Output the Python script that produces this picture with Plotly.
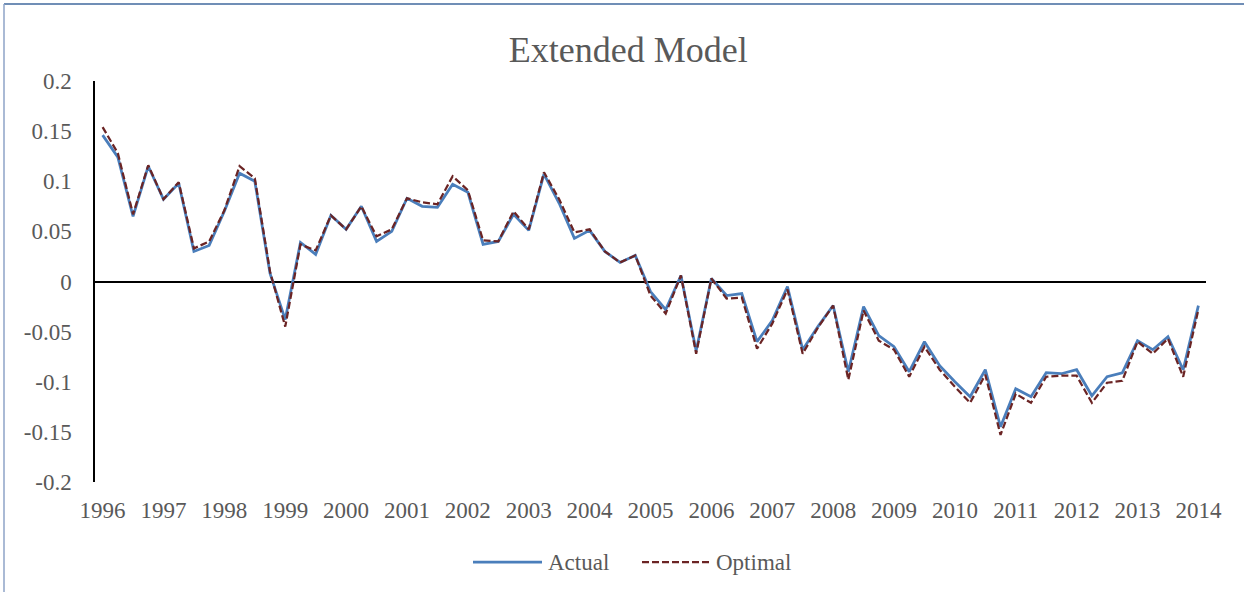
import plotly.graph_objects as go

years = [str(y) for y in range(1996, 2015)]
quarter_index = list(range(73))

actual = [0.146, 0.124, 0.065, 0.115, 0.082, 0.098, 0.030, 0.036, 0.070, 0.108,
          0.100, 0.008, -0.038, 0.039, 0.027, 0.066, 0.052, 0.075, 0.040, 0.050,
          0.083, 0.075, 0.074, 0.097, 0.089, 0.037, 0.040, 0.067, 0.051, 0.107,
          0.078, 0.043, 0.051, 0.030, 0.019, 0.026, -0.010, -0.028, 0.006, -0.069,
          0.003, -0.014, -0.012, -0.060, -0.039, -0.005, -0.068, -0.045, -0.024, -0.090,
          -0.025, -0.054, -0.065, -0.090, -0.060, -0.084, -0.100, -0.115, -0.088, -0.145,
          -0.107, -0.115, -0.091, -0.092, -0.088, -0.114, -0.095, -0.091, -0.059, -0.068,
          -0.055, -0.088, -0.024]

optimal = [0.154, 0.128, 0.067, 0.116, 0.082, 0.099, 0.033, 0.040, 0.071, 0.115,
           0.103, 0.010, -0.045, 0.037, 0.031, 0.066, 0.052, 0.075, 0.045, 0.052,
           0.083, 0.079, 0.077, 0.105, 0.091, 0.041, 0.040, 0.070, 0.052, 0.109,
           0.082, 0.049, 0.052, 0.030, 0.019, 0.026, -0.014, -0.032, 0.006, -0.072,
           0.003, -0.017, -0.016, -0.067, -0.042, -0.008, -0.072, -0.046, -0.024, -0.098,
           -0.029, -0.059, -0.068, -0.095, -0.065, -0.088, -0.105, -0.121, -0.093, -0.153,
           -0.112, -0.121, -0.095, -0.094, -0.094, -0.121, -0.101, -0.099, -0.060, -0.072,
           -0.057, -0.095, -0.028]

y_ticks = [0.2, 0.15, 0.1, 0.05, 0, -0.05, -0.1, -0.15, -0.2]
y_tick_text = ["0.2", "0.15", "0.1", "0.05", "0", "-0.05", "-0.1", "-0.15", "-0.2"]

series_names = ["Actual", "Optimal"]
series_colors = ["#4A7EBB", "#6B2424"]

FONT = "Liberation Serif, Times New Roman, serif"
GREY = "#595959"
DASH = "7px,3px"

# plot-area geometry in pixels (for converting legend/border pixel spots to paper coords)
L, R, T, B = 95, 1206, 81, 482
W, H = R - L, B - T


def px_x(p):
    return (p - L) / W


def px_y(q):
    return (B - q) / H


fig = go.Figure()
fig.add_trace(go.Scatter(x=quarter_index, y=actual, mode="lines", name=series_names[0],
                         line=dict(color=series_colors[0], width=2.75), showlegend=False))
fig.add_trace(go.Scatter(x=quarter_index, y=optimal, mode="lines", name=series_names[1],
                         line=dict(color=series_colors[1], width=2.25, dash=DASH),
                         showlegend=False))

# chart border (top and left edges visible)
fig.add_shape(type="line", xref="paper", yref="paper",
              x0=px_x(4), x1=px_x(1250), y0=px_y(4), y1=px_y(4),
              line=dict(color="#41689E", width=1.5))
fig.add_shape(type="line", xref="paper", yref="paper",
              x0=px_x(4), x1=px_x(4), y0=px_y(4), y1=px_y(600),
              line=dict(color="#8EA3C7", width=1.5))

# legend (drawn to match the long legend keys of the original)
legend_y = px_y(562)
fig.add_shape(type="line", xref="paper", yref="paper",
              x0=px_x(473), x1=px_x(542), y0=legend_y, y1=legend_y,
              line=dict(color=series_colors[0], width=2.75))
fig.add_shape(type="line", xref="paper", yref="paper",
              x0=px_x(642), x1=px_x(710), y0=legend_y, y1=legend_y,
              line=dict(color=series_colors[1], width=2.25, dash=DASH))
fig.add_annotation(text=series_names[0], xref="paper", yref="paper",
                   x=px_x(546), y=legend_y, xanchor="left", yanchor="middle",
                   showarrow=False, font=dict(family=FONT, size=23, color=GREY))
fig.add_annotation(text=series_names[1], xref="paper", yref="paper",
                   x=px_x(714), y=legend_y, xanchor="left", yanchor="middle",
                   showarrow=False, font=dict(family=FONT, size=23, color=GREY))

fig.update_layout(
    width=1244, height=592,
    margin=dict(l=L, r=1244 - R, t=T, b=592 - B),
    paper_bgcolor="white", plot_bgcolor="white",
    font=dict(family=FONT, color=GREY, size=23),
    title=dict(text="Extended Model", x=0.505, xref="container", xanchor="center",
               y=1 - 49 / 592, yref="container", yanchor="middle",
               font=dict(family=FONT, size=36, color=GREY)),
    xaxis=dict(range=[-0.5, 72.5], tickmode="array",
               tickvals=quarter_index[::4], ticktext=years,
               showgrid=False, zeroline=False, showline=False,
               ticks="", ticklabelstandoff=12, automargin=False,
               tickfont=dict(family=FONT, size=23, color=GREY)),
    yaxis=dict(range=[-0.2, 0.2], tickmode="array", tickvals=y_ticks, ticktext=y_tick_text,
               showgrid=False, zeroline=True, zerolinecolor="black", zerolinewidth=1.5,
               showline=True, linecolor="black", linewidth=1.5,
               ticks="", ticklabelstandoff=17, automargin=False,
               tickfont=dict(family=FONT, size=23, color=GREY)),
    showlegend=False,
)

fig.write_html("out.html", config={"displayModeBar": False},
               post_script="document.body.style.margin='0';")
